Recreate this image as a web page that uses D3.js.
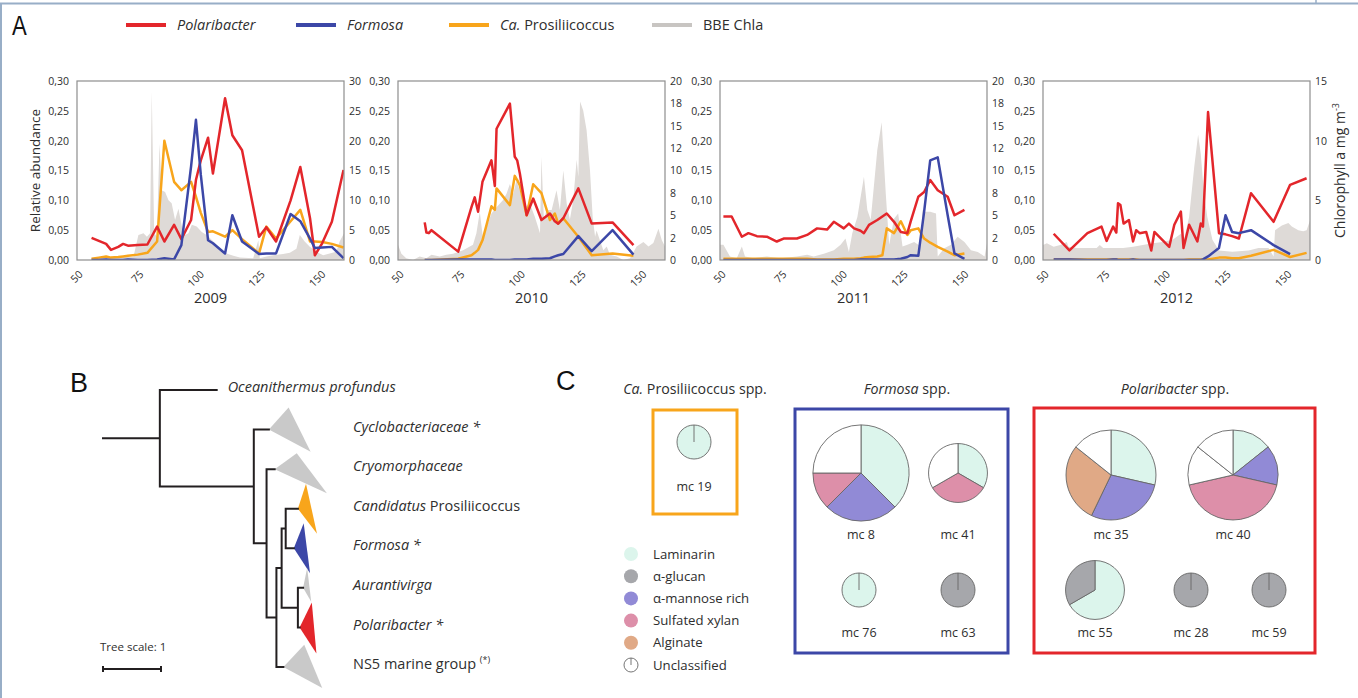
<!DOCTYPE html>
<html>
<head>
<meta charset="utf-8">
<script src="https://cdn.jsdelivr.net/npm/d3@7"></script>
<style>
  html, body { margin: 0; padding: 0; background: #fff; }
  svg { display: block; }
  text { font-family: 'Open Sans', 'Noto Sans', sans-serif; fill: #2e2e2e; }
</style>
</head>
<body>
<svg id="fig" width="1358" height="698"></svg>
<script>
// ---------- Panel A data: day of year, relative abundance, BBE chlorophyll a ----------
const years = ['2009', '2010', '2011', '2012'];
const dayTicks = [50, 75, 100, 125, 150];
const abundanceTicks = [0, 0.05, 0.10, 0.15, 0.20, 0.25, 0.30];
const chlaMax = [30, 20, 20, 15];
const chlaTicks = [
  [0, 5, 10, 15, 20, 25, 30],
  [0, 2.5, 5, 7.5, 10, 12.5, 15, 17.5, 20],
  [0, 2.5, 5, 7.5, 10, 12.5, 15, 17.5, 20],
  [0, 5, 10, 15]
];
const chlaTickLabels = [
  ['0', '5', '10', '15', '20', '25', '30'],
  ['0', '2', '5', '8', '10', '12', '15', '18', '20'],
  ['0', '2', '5', '8', '10', '12', '15', '18', '20'],
  ['0', '5', '10', '15']
];

const days2009 = [56, 59, 62, 64, 67, 69, 71, 75, 79, 83, 86, 90, 93, 97, 99, 101, 104, 106, 111, 114, 118, 125, 128, 132, 138, 142, 146, 148, 151, 155, 159.8];
const polaribacter2009 = [.037, .032, .027, .017, .022, .027, .024, .025, .026, .056, .031, .059, .035, .067, .134, .167, .205, .145, .271, .209, .184, .039, .055, .031, .100, .156, .070, .008, .028, .064, .151];
const formosa2009 = [.000, .000, .001, .000, .000, .000, .001, .000, .000, .001, .003, .001, .025, .157, .235, .143, .033, .028, .011, .075, .031, .010, .011, .011, .077, .065, .036, .020, .021, .022, .003];
const prosilii2009 = [.002, .004, .006, .004, .005, .006, .007, .009, .012, .031, .200, .131, .117, .131, .106, .079, .047, .048, .039, .050, .035, .011, .056, .036, .065, .084, .031, .031, .030, .027, .021];
const chlaDays2009 = [55.8, 59.6, 66.4, 73.3, 75.3, 77.4, 78.8, 80.1, 80.8, 81.8, 82.9, 84.0, 84.9, 86.3, 87.7, 89.0, 90.4, 91.8, 93.2, 94.5, 95.9, 97.3, 99.3, 101.4, 103.4, 106.2, 108.9, 111.6, 114.4, 117.1, 122.6, 124.7, 125.3, 128.1, 130.8, 134.9, 137.7, 140.4, 141.8, 143.8, 145.9, 148.6, 151.4, 154.1, 156.8, 158.2, 160];
const chla2009 = [0.3, 0.4, 0.4, 0.6, 4.2, 4.5, 3.9, 4.5, 28.2, 4.5, 3.9, 19.5, 11.7, 11.4, 10, 9.5, 6.7, 8.6, 5.6, 4.2, 4.5, 5.9, 5.6, 4.7, 4.2, 3.1, 1.9, 1.1, 0.7, 0.4, 0.3, 3.3, 0.3, 0.6, 0.8, 1.0, 1.2, 1.9, 4.2, 3.1, 2.2, 1.4, 0.8, 1.1, 1.4, 3.1, 4.5];

const days2010 = [61, 61.7, 62.7, 63.8, 74.8, 80.3, 81.6, 83, 84.8, 88.5, 89.9, 90.6, 96.1, 98.1, 99.1, 100.2, 103, 105.7, 109.1, 112.6, 114.6, 116, 118.1, 124.3, 129.8, 138.4, 147];
const polaribacter2010 = [.063, .046, .045, .050, .014, .089, .105, .081, .131, .167, .124, .220, .262, .173, .167, .145, .075, .103, .067, .078, .065, .061, .070, .120, .061, .063, .025];
const formosa2010 = [.000, .000, .000, .000, .001, .001, .001, .001, .001, .001, .000, .000, .000, .001, .001, .001, .001, .002, .002, .003, .006, .008, .010, .040, .015, .050, .009];
const prosilii2010 = [.000, .000, .000, .000, .002, .008, .012, .017, .033, .090, .084, .120, .092, .141, .134, .125, .075, .127, .112, .067, .078, .061, .070, .039, .008, .011, .007];
const chlaDays2010 = [50, 51.4, 53.4, 56.2, 58.9, 61.7, 63.8, 67.2, 69.9, 72.7, 74.8, 76.8, 79.6, 80.9, 82.3, 83.7, 85.1, 86.5, 88.5, 90.6, 93.3, 94.7, 96.1, 97.5, 98.8, 100.9, 102.3, 104.3, 106.4, 108.5, 109.1, 110.1, 111.2, 113.3, 115.3, 116.7, 118.1, 119.5, 120.8, 122.2, 123.6, 124.3, 125.0, 126.3, 127.7, 129.1, 130.2, 131.2, 131.8, 134.6, 136.0, 137.3, 140.1, 142.8, 145.6, 148.3, 151.1, 153.2, 155.2, 157.3, 158.7, 160];
const chla2010 = [1.7, 0.7, 0.2, 0, 0.4, 0.2, 0.6, 0.4, 0.6, 0.7, 0.9, 1.1, 1.5, 1.7, 3.0, 5.4, 2.2, 3.7, 5.2, 5.9, 6.7, 7.4, 8.5, 7.4, 8.9, 7.1, 5.9, 6.3, 4.8, 3.0, 11.5, 4.5, 5.6, 5.6, 7.8, 5.6, 10.0, 6.3, 4.5, 6.7, 11.2, 9.3, 17.7, 16.7, 14.5, 10.0, 4.8, 2.6, 3.3, 1.1, 1.5, 0.6, 0.4, 0, 0.2, 1.5, 2.0, 1.5, 1.9, 3.5, 2.2, 1.5];

const days2011 = [51.4, 54.8, 59, 61.7, 65.2, 69.3, 73.4, 76.2, 81.7, 85.9, 90, 94.1, 96.9, 101, 103.1, 105.2, 107.9, 109.3, 111.4, 114.8, 116.9, 118.7, 121.7, 124.5, 127.2, 128.6, 131.7, 134.1, 136.6, 139.7, 143.8, 146.6, 150.7];
const polaribacter2011 = [.073, .073, .039, .045, .040, .039, .031, .036, .036, .042, .053, .051, .064, .053, .061, .053, .049, .045, .059, .067, .073, .078, .064, .047, .045, .065, .106, .114, .134, .117, .106, .075, .084];
const formosa2011 = [.000, .000, .000, .000, .000, .000, .000, .000, .000, .000, .000, .000, .000, .000, .000, .000, .001, .001, .001, .001, .001, .001, .001, .002, .005, .008, .007, .081, .167, .172, .075, .011, .002];
const prosilii2011 = [.002, .002, .002, .002, .002, .002, .002, .002, .002, .002, .001, .001, .001, .002, .002, .002, .003, .004, .005, .006, .008, .053, .045, .065, .042, .050, .053, .036, .029, .022, .014, .008, .011];
const chlaDays2011 = [50, 51.4, 54.1, 56.9, 59.0, 60.3, 63.8, 69.3, 74.8, 81.7, 85.9, 88.6, 92.8, 96.9, 99.7, 101.7, 103.1, 104.5, 106.6, 109.3, 110.7, 112.1, 114.8, 116.6, 118.3, 119.7, 121.7, 123.4, 125.2, 127.2, 130.0, 132.8, 133.4, 134.1, 136.6, 139.0, 139.7, 142.4, 145.2, 147.9, 150.7, 153.4, 156.2, 159.0, 160];
const chla2011 = [1.7, 1.7, 0.4, 0.2, 1.5, 0.4, 0.2, 0.4, 0.2, 0.4, 0.6, 0.4, 0.7, 1.1, 1.7, 2.4, 0.9, 3.0, 4.8, 9.3, 5.6, 4.5, 12.3, 15.4, 7.4, 1.7, 4.6, 5.2, 1.5, 1.7, 2.0, 1.5, 5.6, 5.4, 5.4, 5.2, 0.4, 1.3, 1.7, 2.6, 2.0, 1.1, 0.9, 0.4, 1.9];

const days2012 = [54.4, 60.9, 68.3, 74.1, 76.2, 78.9, 80.2, 80.9, 81.9, 83.2, 85.4, 87.1, 88.4, 89.8, 92.5, 94.6, 95.9, 102.0, 104.1, 106.8, 107.9, 110.2, 113.6, 115.0, 115.9, 118.0, 122.5, 125.2, 127.9, 130.7, 135.7, 145.0, 151.8, 158.6];
const polaribacter2012 = [.044, .016, .045, .056, .032, .056, .046, .095, .092, .061, .067, .031, .050, .045, .047, .016, .047, .022, .059, .081, .020, .059, .031, .061, .056, .248, .045, .043, .040, .036, .112, .064, .126, .137];
const formosa2012 = [.001, .001, .000, .000, .000, .001, .001, .000, .000, .000, .000, .001, .000, .000, .000, .000, .000, .000, .000, .000, .000, .000, .000, .000, .001, .006, .020, .075, .047, .045, .050, .025, .010, null];
const prosilii2012 = [.001, .001, .001, .001, .001, .001, .001, .001, .001, .001, .001, .001, .001, .000, .000, .000, .000, .000, .000, .000, .000, .001, .001, .001, .001, .001, .004, .004, .003, .003, .007, .017, .005, .012];
const chlaDays2012 = [50, 51.6, 54.4, 57.1, 59.8, 60.5, 63.9, 68.0, 72.1, 73.4, 74.8, 78.9, 83.0, 87.1, 91.1, 95.2, 99.3, 103.4, 106.8, 108.2, 110.2, 112.3, 113.9, 115.0, 116.3, 117.7, 119.8, 122.5, 128.0, 134.7, 138.8, 142.9, 145.0, 145.6, 148.4, 151.1, 152.5, 155.2, 157.2, 158.6, 160];
const chla2012 = [1.25, 1.4, 1.1, 1.25, 1.5, 1.1, 1.0, 1.0, 1.0, 1.25, 1.0, 1.0, 1.0, 1.1, 1.25, 1.4, 1.5, 1.7, 2.2, 1.8, 3.6, 7.8, 10.5, 8.9, 5.6, 3.6, 1.7, 0.8, 0.7, 0.8, 1.0, 1.0, 0.3, 2.5, 2.9, 3.1, 2.8, 2.5, 2.4, 2.5, 3.3];

// ---------- Panel B data: phylogeny (branch lengths in tree units) ----------
const treeData = { len: 0.98, children: [
  { name: 'Oceanithermus profundus', len: 0.98 },
  { len: 1.62, children: [
    { name: 'Cyclobacteriaceae', star: ' *', len: 0.26, clade: { color: 'grey', top: [0.34, -0.56], bottom: [0.72, 0.56] } },
    { len: 0.22, children: [
      { name: 'Cryomorphaceae', len: 0.14, clade: { color: 'grey', top: [0.38, -0.40], bottom: [0.90, 0.61] } },
      { len: 0.17, children: [
        { len: 0.09, children: [
          { len: 0.07, children: [
            { name: 'Candidatus Prosiliicoccus', len: 0.21, clade: { color: 'orange', top: [0.14, -0.63], bottom: [0.33, 0.63] } },
            { name: 'Formosa', star: ' *', len: 0.14, clade: { color: 'blue', top: [0.17, -0.63], bottom: [0.28, 0.63] } }
          ] },
          { len: 0.28, children: [
            { name: 'Aurantivirga', len: 0.09, clade: { color: 'grey', top: [0.07, -0.50], bottom: [0.14, 0.35] } },
            { name: 'Polaribacter', star: ' *', len: 0.03, clade: { color: 'red', top: [0.21, -0.63], bottom: [0.29, 0.66] } }
          ] }
        ] },
        { name: 'NS5 marine group', len: 0.12, clade: { color: 'grey', top: [0.36, -0.56], bottom: [0.67, 0.53] } }
      ] }
    ] }
  ] }
] };

// ---------- Panel C data: PUL substrate classes per metagenomic cluster ----------
const substrates = ['Laminarin', 'α-glucan', 'α-mannose rich', 'Sulfated xylan', 'Alginate', 'Unclassified'];
const mcNames = ['mc 19', 'mc 8', 'mc 41', 'mc 76', 'mc 63', 'mc 35', 'mc 40', 'mc 55', 'mc 28', 'mc 59'];
const mcSlices = [
  [['Laminarin', 1]],
  [['Laminarin', 3], ['α-mannose rich', 2], ['Sulfated xylan', 1], ['Unclassified', 2]],
  [['Laminarin', 1], ['Sulfated xylan', 1], ['Unclassified', 1]],
  [['Laminarin', 1]],
  [['α-glucan', 1]],
  [['Laminarin', 2], ['α-mannose rich', 2], ['Alginate', 2], ['Unclassified', 1]],
  [['Laminarin', 1], ['α-mannose rich', 1], ['Sulfated xylan', 3], ['Unclassified', 1], ['Unclassified', 1]],
  [['Laminarin', 2], ['α-glucan', 1]],
  [['α-glucan', 1]],
  [['α-glucan', 1]]
];

// ---------- styling ----------
const C = {
  red: '#e3262b', blue: '#3c47a7', orange: '#f8a51b', grey: '#c9c9c9',
  chla: '#dedad7', chlaLegend: '#c8c5c2', axis: '#8e8e8e', tree: '#231f20', frame: '#98aec7'
};
const substrateColor = d3.scaleOrdinal().domain(substrates)
  .range(['#dcf5ec', '#a6a7ab', '#918ad6', '#dd8fa9', '#e0a986', '#ffffff']);

const svg = d3.select('#fig');
const defs = svg.append('defs');

// thin figure frame
svg.append('line').attr('x1', 0).attr('x2', 1358).attr('y1', 3.5).attr('y2', 3.5)
  .attr('stroke', C.frame).attr('stroke-width', 2);
svg.append('line').attr('x1', 1).attr('x2', 1).attr('y1', 3).attr('y2', 698)
  .attr('stroke', C.frame).attr('stroke-width', 2);
svg.append('line').attr('x1', 1316).attr('x2', 1316).attr('y1', 0).attr('y2', 4)
  .attr('stroke', C.frame).attr('stroke-width', 1.5);

const panelLetter = (t, x, y, sx = 1) => svg.append('text')
  .attr('transform', `translate(${x},${y}) scale(${sx},1)`)
  .attr('font-size', 27).style('font-family', 'Liberation Sans, Arial, sans-serif')
  .style('fill', '#111').text(t);

// rich text helper: parts = [[string, italic]]
function richText(parent, x, y, parts, size, anchor = 'start') {
  const t = parent.append('text').attr('x', x).attr('y', y).attr('font-size', size)
    .attr('text-anchor', anchor);
  parts.forEach(([s, it]) => t.append('tspan').attr('font-style', it ? 'italic' : 'normal').text(s));
  return t;
}

// ================= Panel A =================
panelLetter('A', 12, 35, 0.82);

const legendA = [
  { parts: [['Polaribacter', true]], color: C.red, x: 126 },
  { parts: [['Formosa', true]], color: C.blue, x: 296 },
  { parts: [['Ca.', true], [' Prosiliicoccus', false]], color: C.orange, x: 449 },
  { parts: [['BBE Chla', false]], color: C.chlaLegend, x: 652 }
];
legendA.forEach(l => {
  svg.append('line').attr('x1', l.x).attr('x2', l.x + 40).attr('y1', 25).attr('y2', 25)
    .attr('stroke', l.color).attr('stroke-width', 4);
  richText(svg, l.x + 51, 30, l.parts, 14.5);
});

const series = {
  2009: { days: days2009, pol: polaribacter2009, form: formosa2009, pros: prosilii2009, chlaDays: chlaDays2009, chla: chla2009 },
  2010: { days: days2010, pol: polaribacter2010, form: formosa2010, pros: prosilii2010, chlaDays: chlaDays2010, chla: chla2010 },
  2011: { days: days2011, pol: polaribacter2011, form: formosa2011, pros: prosilii2011, chlaDays: chlaDays2011, chla: chla2011 },
  2012: { days: days2012, pol: polaribacter2012, form: formosa2012, pros: prosilii2012, chlaDays: chlaDays2012, chla: chla2012 }
};

const panelX = [77, 398, 720, 1043];
const panelW = 267, panelTop = 81, panelBottom = 260;
const commaFmt = (d) => d3.format('.2f')(d).replace('.', ',');

years.forEach((yr, i) => {
  const s = series[yr];
  const x = d3.scaleLinear().domain([50, 160]).range([panelX[i], panelX[i] + panelW]);
  const yL = d3.scaleLinear().domain([0, 0.3]).range([panelBottom, panelTop]);
  const yR = d3.scaleLinear().domain([0, chlaMax[i]]).range([panelBottom, panelTop]);
  const g = svg.append('g');

  const clipId = `clip-${yr}`;
  defs.append('clipPath').attr('id', clipId).append('rect')
    .attr('x', panelX[i]).attr('y', panelTop).attr('width', panelW).attr('height', panelBottom - panelTop);
  const plot = g.append('g').attr('clip-path', `url(#${clipId})`);

  const chlaPts = s.chlaDays.map((d, j) => ({ day: d, v: s.chla[j] }));
  plot.append('path').datum(chlaPts).attr('fill', C.chla)
    .attr('d', d3.area().x(d => x(d.day)).y0(yR(0)).y1(d => yR(d.v)));

  const line = d3.line().defined(d => d.v != null).x(d => x(d.day)).y(d => yL(d.v));
  [['pros', C.orange], ['pol', C.red], ['form', C.blue]].forEach(([key, col]) => {
    const pts = s.days.map((d, j) => ({ day: d, v: s[key][j] }));
    plot.append('path').datum(pts).attr('fill', 'none').attr('stroke', col)
      .attr('stroke-width', 2.5).attr('stroke-linejoin', 'round').attr('d', line);
  });

  g.append('rect').attr('x', panelX[i]).attr('y', panelTop).attr('width', panelW)
    .attr('height', panelBottom - panelTop).attr('fill', 'none')
    .attr('stroke', C.axis).attr('stroke-width', 1.2);

  const la = g.append('g').attr('transform', `translate(${panelX[i]},0)`)
    .call(d3.axisLeft(yL).tickValues(abundanceTicks).tickFormat(commaFmt).tickSize(0).tickPadding(8));
  la.select('.domain').remove();
  la.selectAll('text').attr('font-size', 10.5);

  const ra = g.append('g').attr('transform', `translate(${panelX[i] + panelW},0)`)
    .call(d3.axisRight(yR).tickValues(chlaTicks[i]).tickFormat((d, j) => chlaTickLabels[i][j]).tickSize(0).tickPadding(5));
  ra.select('.domain').remove();
  ra.selectAll('text').attr('font-size', 10.5);

  const xa = g.append('g').attr('transform', `translate(0,${panelBottom})`)
    .call(d3.axisBottom(x).tickValues(dayTicks).tickSize(0).tickPadding(0));
  xa.select('.domain').remove();
  xa.selectAll('text').attr('y', 0).attr('dy', 0).attr('font-size', 10.5)
    .attr('transform', 'translate(6,15) rotate(-45)').style('text-anchor', 'end');

  g.append('text').attr('x', panelX[i] + panelW / 2).attr('y', 303).attr('text-anchor', 'middle')
    .attr('font-size', 14.5).text(yr);

  if (i === 0) {
    g.append('text').attr('transform', `translate(40,${(panelTop + panelBottom) / 2}) rotate(-90)`)
      .attr('text-anchor', 'middle').attr('font-size', 13.5).text('Relative abundance');
  }
  if (i === years.length - 1) {
    const t = g.append('text').attr('transform', `translate(1345,${(panelTop + panelBottom) / 2}) rotate(-90)`)
      .attr('text-anchor', 'middle').attr('font-size', 14);
    t.append('tspan').text('Chlorophyll a mg m');
    t.append('tspan').attr('font-size', 9).attr('dy', -6).text('-3');
  }
});

// ================= Panel B =================
panelLetter('B', 70, 392);

const treeUnit = d3.scaleLinear().domain([0, 1]).range([103, 161]);
const root = d3.hierarchy(treeData);
root.eachBefore(n => { n.cum = (n.parent ? n.parent.cum : 0) + n.data.len; });
const leafY = d3.scalePoint().domain(root.leaves().map(l => l.data.name)).range([390, 667]);
const step = leafY.step();
root.eachAfter(n => {
  n.px = treeUnit(n.cum);
  n.py = n.children ? (n.children[0].py + n.children[n.children.length - 1].py) / 2 : leafY(n.data.name);
});

const tree = svg.append('g');
const cladeFill = { grey: C.grey, orange: C.orange, blue: C.blue, red: C.red };
root.leaves().filter(n => n.data.clade).forEach(n => {
  const c = n.data.clade;
  const pts = [
    [n.px, n.py],
    [treeUnit(n.cum + c.top[0]), n.py + c.top[1] * step],
    [treeUnit(n.cum + c.bottom[0]), n.py + c.bottom[1] * step]
  ];
  tree.append('path').attr('d', d3.line()(pts) + 'Z').attr('fill', cladeFill[c.color]);
});

const branches = d3.path();
branches.moveTo(treeUnit(0), root.py); branches.lineTo(root.px, root.py);
root.descendants().forEach(n => {
  if (n.parent) { branches.moveTo(n.parent.px, n.py); branches.lineTo(n.px, n.py); }
  if (n.children) {
    branches.moveTo(n.px, n.children[0].py);
    branches.lineTo(n.px, n.children[n.children.length - 1].py);
  }
});
tree.append('path').attr('d', branches.toString()).attr('fill', 'none')
  .attr('stroke', C.tree).attr('stroke-width', 2).attr('stroke-linecap', 'square');

root.leaves().forEach(n => {
  const lx = n.data.clade ? 353 : n.px + 11;
  const y = n.py - 3;
  const name = n.data.name;
  let t;
  if (name === 'Candidatus Prosiliicoccus') t = richText(tree, lx, y, [['Candidatus', true], [' Prosiliicoccus', false]], 14.5);
  else if (name === 'NS5 marine group') {
    t = richText(tree, lx, y, [[name + ' ', false]], 14.5);
    t.append('tspan').attr('font-size', 9).attr('dy', -6).text('(*)');
  } else t = richText(tree, lx, y, [[name + (n.data.star || ''), true]], 14.5);
  t.attr('dy', '0.35em');
});

// tree scale bar
tree.append('text').attr('x', 100).attr('y', 651).attr('font-size', 11.5).text('Tree scale: 1');
const sb = d3.path();
sb.moveTo(treeUnit(0), 669); sb.lineTo(treeUnit(1), 669);
sb.moveTo(treeUnit(0), 666); sb.lineTo(treeUnit(0), 672);
sb.moveTo(treeUnit(1), 666); sb.lineTo(treeUnit(1), 672);
tree.append('path').attr('d', sb.toString()).attr('stroke', C.tree).attr('stroke-width', 2).attr('fill', 'none');

// ================= Panel C =================
panelLetter('C', 556, 390);

const boxes = [
  { title: [['Ca.', true], [' Prosiliicoccus spp.', false]], color: C.orange, x0: 653, y0: 410, x1: 737, y1: 514, tx: 695 },
  { title: [['Formosa', true], [' spp.', false]], color: C.blue, x0: 795, y0: 409, x1: 1008, y1: 653, tx: 907 },
  { title: [['Polaribacter', true], [' spp.', false]], color: C.red, x0: 1034, y0: 408, x1: 1315, y1: 653, tx: 1175 }
];
boxes.forEach(b => {
  svg.append('rect').attr('x', b.x0).attr('y', b.y0).attr('width', b.x1 - b.x0).attr('height', b.y1 - b.y0)
    .attr('fill', 'none').attr('stroke', b.color).attr('stroke-width', 3);
  richText(svg, b.tx, 394, b.title, 14.2, 'middle');
});

// pie layout: centre x, centre y, label baseline
const pieLayout = {
  'mc 19': [694, 442, 491], 'mc 8': [861, 473, 539], 'mc 41': [958, 473, 539],
  'mc 76': [859, 590, 637], 'mc 63': [958, 590, 637], 'mc 35': [1111, 475, 539],
  'mc 40': [1233, 475, 539], 'mc 55': [1095, 590, 637], 'mc 28': [1191, 590, 637], 'mc 59': [1269, 590, 637]
};
const rScale = d3.scaleSqrt().domain([0, 1]).range([0, 17]);
const pie = d3.pie().sort(null).value(d => d[1]);
mcNames.forEach((name, i) => {
  const slices = mcSlices[i];
  const r = rScale(d3.sum(slices, d => d[1]));
  const [cx, cy, ly] = pieLayout[name];
  const g = svg.append('g').attr('transform', `translate(${cx},${cy})`);
  const arc = d3.arc().innerRadius(0).outerRadius(r);
  g.selectAll('path').data(pie(slices)).join('path').attr('d', arc)
    .attr('fill', d => substrateColor(d.data[0])).attr('stroke', '#666').attr('stroke-width', 0.9)
    .attr('stroke-linejoin', 'round');
  if (slices.length === 1) {
    g.append('line').attr('x1', 0).attr('y1', 0).attr('x2', 0).attr('y2', -r)
      .attr('stroke', '#666').attr('stroke-width', 0.9);
  }
  svg.append('text').attr('x', cx).attr('y', ly).attr('text-anchor', 'middle').attr('font-size', 12.5).text(name);
});

// substrate legend
const legY = d3.scalePoint().domain(substrates).range([554, 665]);
substrates.forEach(sname => {
  const y = legY(sname);
  svg.append('circle').attr('cx', 631).attr('cy', y).attr('r', 7)
    .attr('fill', substrateColor(sname)).attr('stroke', sname === 'Unclassified' ? '#666' : 'none').attr('stroke-width', 0.9);
  if (sname === 'Unclassified') {
    svg.append('line').attr('x1', 631).attr('x2', 631).attr('y1', y).attr('y2', y - 7)
      .attr('stroke', '#666').attr('stroke-width', 0.9);
  }
  svg.append('text').attr('x', 653).attr('y', y).attr('dy', '0.35em').attr('font-size', 13.2).text(sname);
});
</script>
</body>
</html>
